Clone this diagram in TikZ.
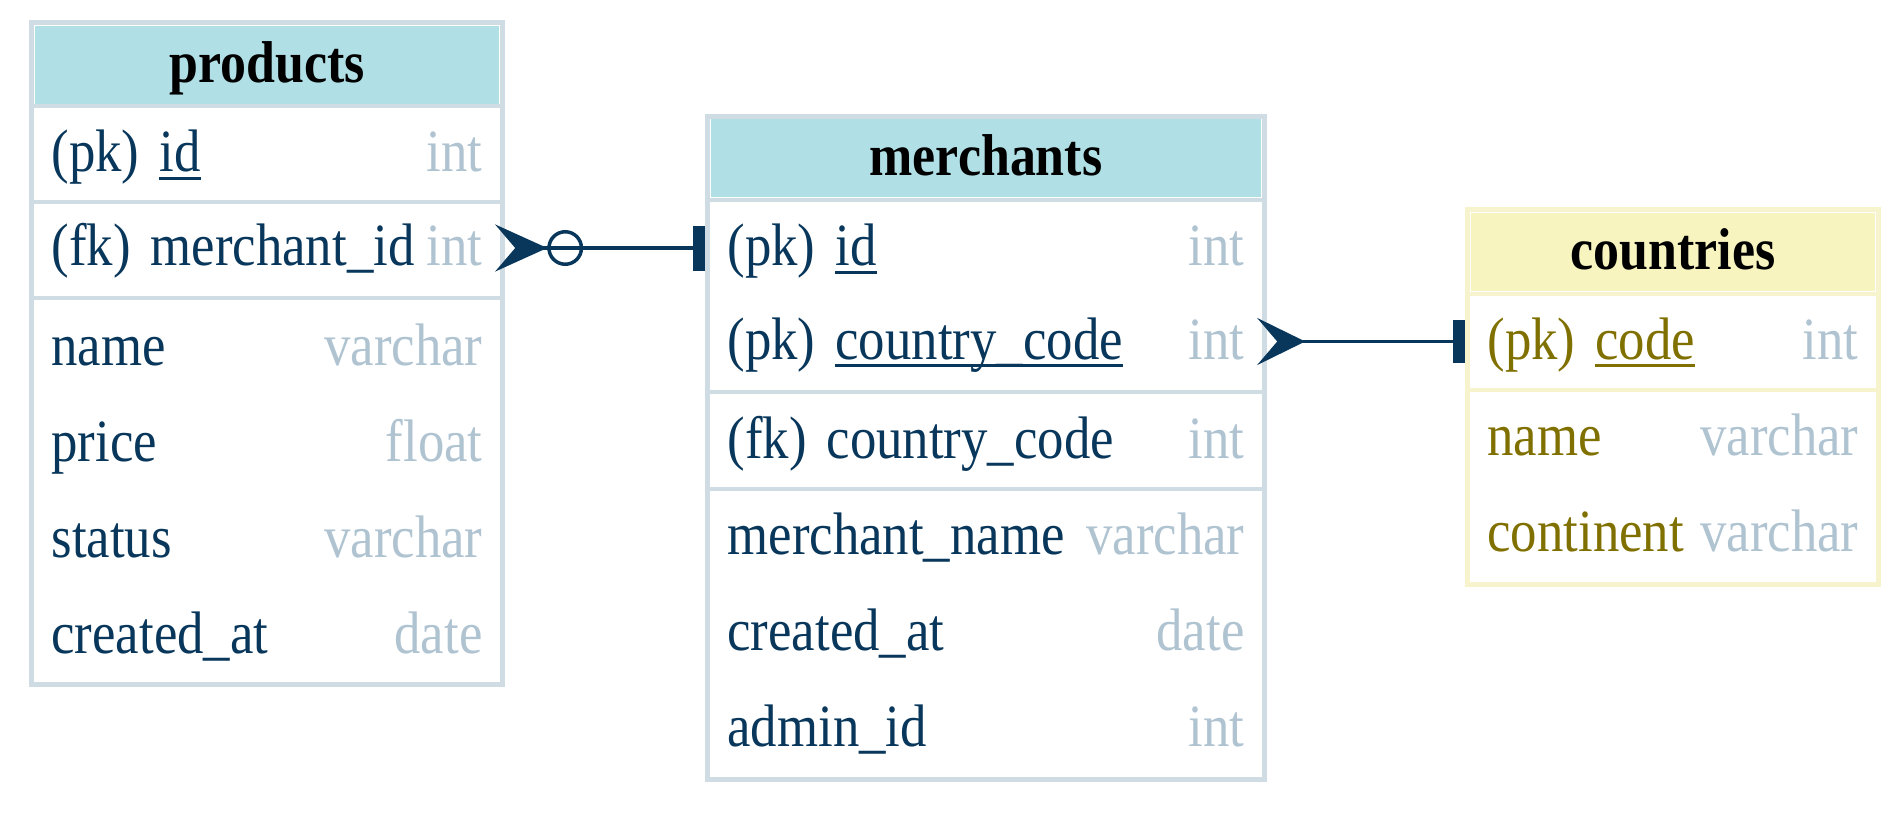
\documentclass[tikz,border=0pt]{standalone}
\usepackage{fontspec}
\setmainfont{Liberation Serif}[FakeStretch=0.88]
\usetikzlibrary{arrows.meta}
\definecolor{framegray}{HTML}{D0DCE4}
\definecolor{headblue}{HTML}{B0E0E6}
\definecolor{frameyellow}{HTML}{F7F3CD}
\definecolor{headyellow}{HTML}{F8F4BF}
\definecolor{navy}{HTML}{08375B}
\definecolor{typegray}{HTML}{AFC3D1}
\definecolor{olive}{HTML}{807000}
\setlength{\parindent}{0pt}
\newsavebox{\pkbox}
\newcommand{\pkul}[1]{\sbox{\pkbox}{#1}\rlap{\rule[-8pt]{\wd\pkbox}{3pt}}\usebox{\pkbox}}
\newcommand{\ftype}[1]{\textcolor{typegray}{#1}}

\begin{document}
\begin{tikzpicture}[x=1pt, y=-1pt,
    every node/.style={font=\fontsize{60}{70}\selectfont},
    tablebox/.style={draw=#1, line width=5pt, inner sep=0pt},
    tablehead/.style={fill=#1, inner sep=0pt, minimum height=78pt, text height=35pt, text depth=0pt, font=\fontsize{59}{70}\selectfont\bfseries},
    field/.style={text width=#1, inner xsep=22.5pt, inner ysep=0pt, minimum height=96pt, text height=35pt, text depth=0pt, align=left, text=navy},
    divider/.style={draw=#1, line width=4pt},
    rel/.style={draw=navy, line width=3.5pt}]
    \useasboundingbox (0,0) rectangle (1902,814);

    % products
    \node[tablebox=framegray, minimum width=471pt, minimum height=662pt] (products) at (267,353.5) {};
    \node[tablehead=headblue, minimum width=464pt] (products-head) at (267,64.5) {products};
    \draw[divider=framegray] (34,106) -- (500,106);
    \draw[divider=framegray] (34,202) -- (500,202);
    \draw[divider=framegray] (34,298) -- (500,298);
    \node[field=431pt] (products-id) at (267,154) {(pk) \pkul{id}\hfill\ftype{int}};
    \node[field=431pt] (products-merchant) at (267,248) {(fk) merchant\_id\hfill\ftype{int}};
    \node[field=431pt] (products-name) at (267,347.5) {name\hfill\ftype{varchar}};
    \node[field=431pt] (products-price) at (267,443.5) {price\hfill\ftype{float}};
    \node[field=431pt] (products-status) at (267,539.5) {status\hfill\ftype{varchar}};
    \node[field=431pt] (products-created) at (267,635.5) {created\_at\hfill\ftype{date}};

    % merchants
    \node[tablebox=framegray, minimum width=557pt, minimum height=663pt] (merchants) at (986,448) {};
    \node[tablehead=headblue, minimum width=550pt] (merchants-head) at (986,158) {merchants};
    \draw[divider=framegray] (710,200) -- (1262,200);
    \draw[divider=framegray] (710,392) -- (1262,392);
    \draw[divider=framegray] (710,489) -- (1262,489);
    \node[field=517pt] (merchants-id) at (986,248) {(pk) \pkul{id}\hfill\ftype{int}};
    \node[field=517pt] (merchants-country) at (986,341.5) {(pk) \pkul{country\_code}\hfill\ftype{int}};
    \node[field=517pt] (merchants-countryfk) at (986,440.5) {(fk) country\_code\hfill\ftype{int}};
    \node[field=517pt] (merchants-name) at (986,537) {merchant\_name\hfill\ftype{varchar}};
    \node[field=517pt] (merchants-created) at (986,633) {created\_at\hfill\ftype{date}};
    \node[field=517pt] (merchants-admin) at (986,729) {admin\_id\hfill\ftype{int}};

    % countries
    \node[tablebox=frameyellow, minimum width=411pt, minimum height=375pt] (countries) at (1673,397) {};
    \node[tablehead=headyellow, minimum width=404pt] (countries-head) at (1673,251.5) {countries};
    \draw[divider=frameyellow] (1470,293.5) -- (1876,293.5);
    \draw[divider=frameyellow] (1470,389.5) -- (1876,389.5);
    \node[field=371pt, text=olive] (countries-code) at (1673,341.5) {(pk) \pkul{code}\hfill\ftype{int}};
    \node[field=371pt, text=olive] (countries-name) at (1673,437.5) {name\hfill\ftype{varchar}};
    \node[field=371pt, text=olive] (countries-continent) at (1673,533.5) {continent\hfill\ftype{varchar}};

    % Edges
    \draw[rel, {Stealth[reversed, length=52pt, width=47pt, inset=20pt, sep=0pt] Circle[open, length=36pt, width=36pt, line width=3.5pt]}-{Rectangle[length=12pt, width=45pt]}, shorten <=-10pt] (products-merchant.east) -- (merchants-id.west);
    \draw[rel, {Stealth[reversed, length=48pt, width=47pt, inset=20pt]}-{Rectangle[length=12pt, width=43pt]}, shorten <=-10pt] (merchants-country.east) -- (countries-code.west);
\end{tikzpicture}
\end{document}
